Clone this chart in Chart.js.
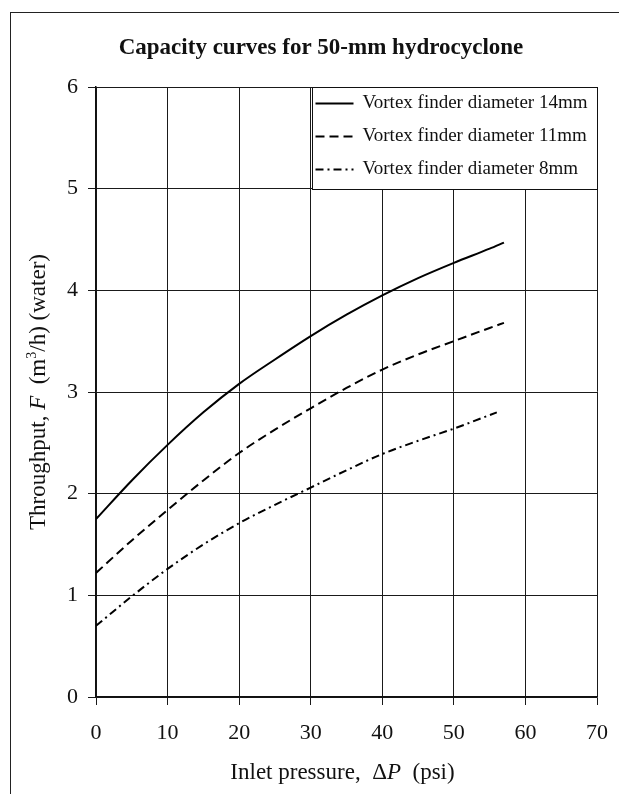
<!DOCTYPE html>
<html>
<head>
<meta charset="utf-8">
<script src="https://cdn.jsdelivr.net/npm/chart.js@4.4.1/dist/chart.umd.min.js"></script>
<style>
  html, body { margin: 0; padding: 0; background: #fff; overflow: hidden; }
  #frame { position: absolute; left: 10px; top: 12px; width: 700px; height: 900px; border: 1px solid #222; pointer-events: none; }
  #capacity-chart { position: absolute; left: 0; top: 0; }
</style>
</head>
<body>
<canvas id="capacity-chart" width="642" height="794"></canvas>
<div id="frame"></div>
<script>
// values
const pressure = [0, 5, 10, 15, 20, 25, 30, 35, 40, 45, 50, 55, 57];
const vortex14 = [1.75, 2.13, 2.48, 2.80, 3.08, 3.32, 3.55, 3.76, 3.95, 4.12, 4.27, 4.41, 4.47];
const vortex11 = [1.22, 1.54, 1.84, 2.13, 2.40, 2.63, 2.84, 3.04, 3.22, 3.37, 3.50, 3.63, 3.68];
const pressure8 = [0, 5, 10, 15, 20, 25, 30, 35, 40, 45, 50, 56];
const vortex8 = [0.70, 0.99, 1.26, 1.50, 1.71, 1.89, 2.06, 2.23, 2.39, 2.52, 2.64, 2.80];

const seriesLabels = ['Vortex finder diameter 14mm', 'Vortex finder diameter 11mm', 'Vortex finder diameter 8mm'];
const xTicks = [0, 10, 20, 30, 40, 50, 60, 70];
const yTicks = [0, 1, 2, 3, 4, 5, 6];
const chartTitle = 'Capacity curves for 50-mm hydrocyclone';

const serif = '"Liberation Serif", "Times New Roman", serif';

function toPoints(xs, ys) {
  return xs.map((x, i) => ({ x: x, y: ys[i] }));
}

// draws a list of text pieces (normal / italic / superscript) centred on 0,0
function drawRichText(ctx, parts, size) {
  const fontFor = (p) => (p.italic ? 'italic ' : '') + (p.bold ? 'bold ' : '') + (p.sup ? Math.round(size * 0.62) : size) + 'px ' + serif;
  let total = 0;
  parts.forEach(p => { ctx.font = fontFor(p); total += ctx.measureText(p.text).width; });
  let x = -total / 2;
  ctx.textBaseline = 'alphabetic';
  ctx.textAlign = 'left';
  parts.forEach(p => {
    ctx.font = fontFor(p);
    ctx.fillText(p.text, x, p.sup ? size * 0.3 - size * 0.38 : size * 0.3);
    x += ctx.measureText(p.text).width;
  });
}

const extrasPlugin = {
  id: 'extras',
  afterDraw(chart) {
    const ctx = chart.ctx;
    const area = chart.chartArea;
    const xs = chart.scales.x;
    const ys = chart.scales.y;

    // chart title, centred on the outer frame
    ctx.save();
    ctx.fillStyle = '#111';
    ctx.translate(321, 47);
    drawRichText(ctx, [{ text: chartTitle, bold: true }], 23);
    ctx.restore();

    // axis titles
    ctx.save();
    ctx.fillStyle = '#111';
    ctx.translate((area.left + area.right) / 2 - 4, 772);
    drawRichText(ctx, [
      { text: 'Inlet pressure,  ' },
      { text: '\u0394' },
      { text: 'P', italic: true },
      { text: '  (psi)' }
    ], 23);
    ctx.restore();

    ctx.save();
    ctx.fillStyle = '#111';
    ctx.translate(38, (area.top + area.bottom) / 2);
    ctx.rotate(-Math.PI / 2);
    drawRichText(ctx, [
      { text: 'Throughput, ' },
      { text: 'F', italic: true },
      { text: '  (m' },
      { text: '3', sup: true },
      { text: '/h) (water)' }
    ], 23);
    ctx.restore();

    // legend box in the top right cells
    const x1 = Math.round(xs.getPixelForValue(30)) + 1.5;
    const y1 = Math.round(area.top) + 0.5;
    const x2 = Math.round(area.right) + 0.5;
    const y2 = Math.round(ys.getPixelForValue(5)) + 0.5;
    ctx.save();
    ctx.fillStyle = '#fff';
    ctx.fillRect(x1, y1, x2 - x1, y2 - y1);
    ctx.strokeStyle = '#111';
    ctx.lineWidth = 1;
    ctx.strokeRect(x1, y1, x2 - x1, y2 - y1);
    ctx.font = '19px ' + serif;
    ctx.fillStyle = '#111';
    ctx.textBaseline = 'middle';
    chart.data.datasets.forEach((ds, i) => {
      const rowY = y1 + 16 + i * 33;
      ctx.beginPath();
      ctx.setLineDash(ds.borderDash || []);
      ctx.lineWidth = 2;
      ctx.strokeStyle = '#000';
      ctx.moveTo(x1 + 3, rowY);
      ctx.lineTo(x1 + 41, rowY);
      ctx.stroke();
      ctx.setLineDash([]);
      ctx.fillText(ds.label, x1 + 50, rowY);
    });
    ctx.restore();
  }
};

const capacityChart = new Chart(document.getElementById('capacity-chart'), {
  type: 'line',
  data: {
    datasets: [{
      label: seriesLabels[0],
      data: toPoints(pressure, vortex14),
      borderColor: '#000',
      borderWidth: 2,
      borderDash: []
    }, {
      label: seriesLabels[1],
      data: toPoints(pressure, vortex11),
      borderColor: '#000',
      borderWidth: 2,
      borderDash: [9, 5]
    }, {
      label: seriesLabels[2],
      data: toPoints(pressure8, vortex8),
      borderColor: '#000',
      borderWidth: 2,
      borderDash: [8, 4, 2, 4]
    }]
  },
  options: {
    responsive: false,
    animation: false,
    layout: { padding: { left: 0, right: 45, top: 87, bottom: 0 } },
    elements: { point: { radius: 0 }, line: { cubicInterpolationMode: 'monotone' } },
    plugins: {
      legend: { display: false },
      tooltip: { enabled: false },
      title: { display: false }
    },
    scales: {
      x: {
        type: 'linear',
        min: 0,
        max: 70,
        afterFit: (scale) => { scale.height = 97; },
        afterBuildTicks: (scale) => { scale.ticks = xTicks.map(v => ({ value: v })); },
        grid: { color: '#1a1a1a', lineWidth: 1, tickLength: 8 },
        border: { color: '#111', width: 1.5 },
        ticks: { color: '#111', padding: 15, maxRotation: 0, font: { family: serif, size: 22 } }
      },
      y: {
        type: 'linear',
        min: 0,
        max: 6,
        afterFit: (scale) => { scale.width = 96; },
        afterBuildTicks: (scale) => { scale.ticks = yTicks.map(v => ({ value: v })); },
        grid: { color: '#1a1a1a', lineWidth: 1, tickLength: 8 },
        border: { color: '#111', width: 1.5 },
        ticks: { color: '#111', padding: 10, font: { family: serif, size: 22 } }
      }
    }
  },
  plugins: [extrasPlugin]
});
</script>
</body>
</html>
